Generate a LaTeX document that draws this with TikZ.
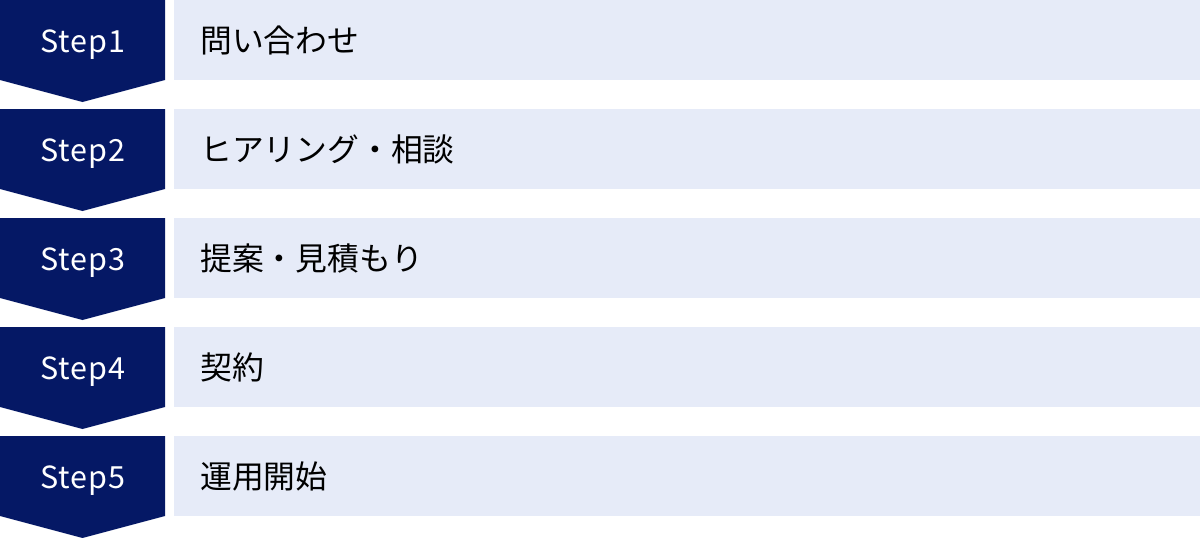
\documentclass[tikz,border=0pt]{standalone}
\usepackage{fontspec}
\setmainfont{Noto Sans}
\newfontfamily\jpfont{Noto Sans CJK JP}
\newfontfamily\stepfont[LetterSpace=3]{Noto Sans CJK JP}
\definecolor{navy}{HTML}{051865}
\definecolor{barbg}{HTML}{E6EBF8}
\begin{document}
\begin{tikzpicture}[x=1pt,y=-1pt,
  chevron/.style={fill=navy,draw=none},
  bar/.style={fill=barbg,draw=none},
  steplabel/.style={text=white,font=\stepfont\fontsize{30.5}{30.5}\selectfont,inner sep=0pt,anchor=base},
  desc/.style={text=black,font=\jpfont\fontsize{31.8}{31.8}\selectfont,inner sep=0pt,anchor=base west}]
\useasboundingbox (0,0) rectangle (1200,538);
\foreach \i/\t in {0/問い合わせ,1/ヒアリング・相談,2/提案・見積もり,3/契約,4/運用開始}{
  \pgfmathsetmacro{\yy}{\i*109}
  \fill[chevron] (0,\yy) -- (165,\yy) -- (165,\yy+80) -- (82.5,\yy+102) -- (0,\yy+80) -- cycle;
  \fill[bar] (174,\yy) rectangle (1200,\yy+80);
  \pgfmathtruncatemacro{\n}{\i+1}
  \node[steplabel] (s\n) at (83,\yy+52.5) {Step\n};
  \node[desc] (d\n) at (200,\yy+52.5) {\t};
}
\end{tikzpicture}
\end{document}
